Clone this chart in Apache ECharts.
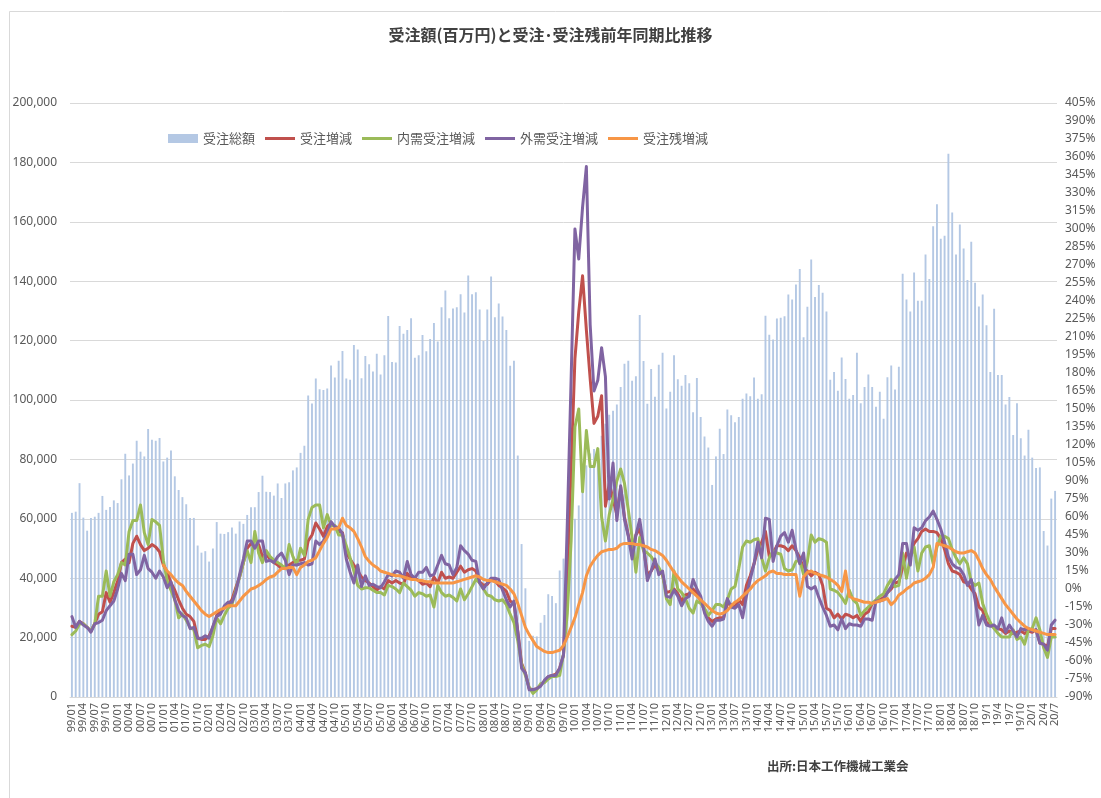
<!DOCTYPE html>
<html>
<head>
<meta charset="utf-8">
<title>受注額と受注・受注残前年同期比推移</title>
<script src="https://cdn.jsdelivr.net/npm/echarts@6/dist/echarts.min.js"></script>
<style>
  html, body { margin: 0; padding: 0; background: #fff; }
  #chart { width: 1101px; height: 798px; }
</style>
</head>
<body>
<div id="chart"></div>
<script>
const TITLE = '受注額(百万円)と受注･受注残前年同期比推移'
const SOURCE = '出所:日本工作機械工業会'

// month labels 99/01 ... 18/12, then 19/1 ... 20/7
const months = []
for (let y = 1999; y <= 2020; y++) {
    for (let m = 1; m <= 12; m++) {
        if (y == 2020 && m > 7) break
        const yy = String(y % 100).padStart(2, '0')
        const mm = y < 2019 ? String(m).padStart(2, '0') : String(m)
        months.push(`${yy}/${mm}`)
    }
}

// 受注総額 (百万円), one row per year
const totalOrders = [
    62000, 62400, 72000, 60400, 56000, 60300, 60700, 62000, 67700, 63000, 64000, 66200,
    65300, 73300, 81900, 74600, 78600, 86300, 82600, 81000, 90200, 86600, 86300, 87200,
    79300, 80600, 83000, 74300, 69700, 67300, 64900, 60300, 60300, 51000, 48600, 49100,
    45600, 50000, 58900, 55000, 54900, 55500, 57100, 55000, 59100, 58300, 61300, 63900,
    63900, 69000, 74500, 69100, 69000, 67800, 71900, 67000, 71900, 72300, 76300, 77300,
    82200, 84600, 101500, 98800, 107200, 103600, 103400, 103900, 111600, 107600, 113200, 116500,
    107200, 106800, 118500, 117000, 107300, 114800, 112000, 109600, 115600, 108600, 115100, 128300,
    112800, 112600, 124900, 122300, 123600, 127500, 114200, 115100, 121900, 116400, 120500, 125900,
    119700, 131200, 136900, 127500, 130800, 131200, 135600, 129500, 141900, 135600, 136300, 130500,
    119900, 130500, 141600, 127900, 132500, 128100, 123600, 111500, 113200, 81300, 51500, 36600,
    18900, 20600, 20400, 25000, 27600, 34600, 34000, 31600, 42600, 46600, 50000, 56000,
    60000, 64500, 75300, 78000, 82000, 83500, 83700, 88000, 92000, 95000, 96400, 98500,
    104400, 112200, 113200, 106500, 108000, 128600, 113100, 98700, 110400, 101100, 111900, 115900,
    97100, 102800, 115100, 107000, 104800, 108400, 105600, 95900, 107400, 94300, 87700, 84000,
    71400, 81000, 90300, 81800, 96800, 94900, 92500, 94300, 100400, 102200, 101300, 107600,
    100400, 101900, 128400, 122000, 120400, 127400, 127700, 128200, 135500, 133800, 138900, 144100,
    121100, 131400, 147300, 134700, 138700, 136100, 129800, 106800, 109400, 103100, 114300, 107100,
    100400, 101700, 115900, 98900, 104400, 108600, 104400, 97700, 102800, 93700, 107700, 111600,
    103500, 111200, 142500, 133800, 129800, 142900, 133400, 133400, 149000, 140700, 158500, 165900,
    154300, 155300, 182900, 163100, 149000, 159100, 151000, 140400, 153300, 139500, 131500, 135500,
    125200, 109400, 130700, 108400, 108400, 98500, 101000, 88200, 98900, 87100, 81300, 90000,
    80600, 77100, 77300, 55900, 51000, 66800, 69400
]

// 受注増減 (%)
const orderChange = [
    -31, -32, -27, -29, -32, -35, -29, -21, -19, -3, -11, -3,
    7, 22, 25, 22, 38, 44, 37, 32, 34, 37, 35, 31,
    20, 14, 5, -1, -9, -16, -21, -23, -27, -41, -42, -42,
    -39, -32, -22, -19, -16, -13, -9, 1, 10, 22, 34, 38,
    35, 37, 27, 29, 25, 22, 20, 17, 17, 20, 22, 24,
    24, 25, 40, 45, 55, 50, 44, 52, 55, 52, 48, 47,
    30, 25, 20, 15, 10, 7, 5, 2, -1, 2, 0, 7,
    5, 7, 5, 4, 13, 9, 9, 7, 4, 5, 2, 10,
    5, 14, 9, 10, 9, 14, 19, 14, 16, 17, 15, 6,
    3, 4, 8, 7, 3, 1, -2, -10, -12, -35, -62, -70,
    -83, -84, -83, -80, -77, -73, -72, -71, -66, -55, 10, 100,
    192, 231, 261, 216, 175, 138, 144, 161, 69, 88, 75, 62,
    85, 60, 45, 30, 45, 50, 35, 12, 15, 20, 15, 12,
    -3, -2, 0, -4, -10, -5, -4, 0, -3, -10, -18, -24,
    -27, -25, -24, -24, -12, -13, -15, -9, -13, 3, 11, 21,
    33, 39, 48, 27, 30, 36, 36, 35, 32, 36, 32, 26,
    17, 15, 11, 14, 12, 3, -16, -18, -24, -21, -25, -21,
    -22, -24, -22, -27, -21, -19, -12, -10, -9, -7, -3, 0,
    5, 6, 18, 30, 27, 38, 42, 48, 50, 48, 48, 47,
    42, 33, 21, 15, 14, 12, 6, 5, 0, -4, -15, -18,
    -28, -30, -32, -33, -34, -37, -35, -37, -36, -35, -37, -35,
    -36, -34, -45, -46, -48, -33, -33
]

// 内需受注増減 (%)
const domesticChange = [
    -38, -35, -29, -29, -32, -35, -29, -6, -6, 15, -6, 6,
    12, 22, 20, 48, 57, 57, 70, 47, 37, 58, 56, 53,
    24, 7, -1, -9, -24, -21, -26, -32, -34, -49, -47, -46,
    -48, -39, -24, -29, -22, -16, -13, -1, 10, 22, 32, 22,
    48, 30, 22, 32, 27, 24, 22, 20, 17, 37, 27, 20,
    34, 28, 58, 68, 70, 70, 51, 62, 53, 53, 45, 45,
    36, 26, 15, 3, 0, 1, 1, -1, -3, -3, -5, 3,
    2, 0, -3, 5, 2, -1, -6, -3, -4, -6, -5, -15,
    3, -3, -6, -5, -7, -10, 0, -9, -4, 2, 8, 5,
    0, -5, -6, -9, -10, -9, -13, -21, -28, -43, -63, -72,
    -82, -87, -84, -79, -78, -75, -73, -73, -72, -54, -20, 40,
    135, 150, 81, 132, 102, 102, 117, 60, 40, 62, 75, 90,
    100, 88, 66, 43, 14, 43, 32, 30, 27, 22, 18, 12,
    -8, -13, 15, 0, -3, -8, -16, -20, -10, -12, -16, -22,
    -18, -13, -13, -15, -9, 0, 2, 17, 35, 40, 39, 41,
    42, 26, 15, 26, 32, 30, 29, 17, 15, 16, 23, 24,
    12, 23, 45, 39, 42, 41, 39, 0, -1, -3, -7, -12,
    -1, -9, -12, -22, -18, -15, -12, -9, -6, -4, 3, 8,
    2, 3, 30, 9, 26, 35, 15, 30, 35, 36, 21, 35,
    44, 44, 42, 33, 26, 21, 26, 21, 6, 3, 5, -12,
    -21, -28, -33, -37, -40, -40, -40, -34, -42, -40, -46, -34,
    -33, -24, -34, -49, -57, -40, -40
]

// 外需受注増減 (%)
const foreignChange = [
    -23, -32, -27, -30, -32, -36, -29, -28, -26, -18, -14, -10,
    0, 13, 7, 29, 29, 12, 16, 28, 17, 14, 9, 15,
    10, 1, 6, -9, -18, -22, -24, -33, -32, -41, -41, -39,
    -41, -31, -23, -21, -14, -11, -11, -3, 12, 25, 40, 40,
    34, 40, 40, 23, 24, 22, 27, 30, 24, 12, 20, 20,
    21, 22, 20, 21, 40, 37, 40, 46, 56, 52, 51, 46,
    25, 14, 5, 20, 2, 11, 3, 4, 2, 1, 6, 12,
    11, 15, 14, 9, 23, 12, 9, 14, 14, 18, 11, 12,
    20, 28, 21, 20, 12, 18, 36, 32, 29, 24, 23, 5,
    0, 5, 9, 9, 8, -1, -9, -15, -10, -36, -66, -70,
    -84, -84, -83, -81, -76, -73, -72, -72, -66, -55, 55, 175,
    300, 275, 318, 352, 220, 165, 174, 201, 177, 75, 105, 57,
    86, 58, 44, 25, 45, 58, 36, 7, 15, 25, 12, 15,
    -6, -7, -1, -6, -14, -8, -6, 8, 0, -6, -20, -27,
    -31, -26, -26, -25, -8, -15, -16, -13, -24, -6, 8, 21,
    39, 26, 59, 58, 23, 36, 44, 47, 39, 49, 33, 21,
    30, 2, 0, 2, -7, -15, -22, -31, -30, -34, -25, -33,
    -29, -30, -30, -31, -25, -25, -26, -10, -10, -9, -3, 2,
    8, 12, 38, 38, 20, 51, 49, 51, 57, 60, 65, 58,
    50, 39, 27, 21, 18, 17, 12, 3, 8, -9, -30, -22,
    -30, -31, -30, -33, -24, -36, -30, -35, -40, -33, -34, -33,
    -35, -34, -45, -46, -51, -30, -26
]

// 受注残増減 (%), no data for 1999-2000
const backlogChange = [
    null, null, null, null, null, null, null, null, null, null, null, null,
    null, null, null, null, null, null, null, null, null, null, null, null,
    20, 15, 12, 8, 5, 3, -2, -6, -10, -14, -18, -21,
    -23, -21, -19, -17, -16, -14, -14, -14, -10, -6, -3, 0,
    1, 3, 5, 8, 10, 11, 14, 17, 17, 18, 18, 12,
    18, 20, 23, 24, 26, 32, 38, 43, 50, 50, 51, 59,
    53, 51, 48, 42, 35, 27, 23, 20, 18, 15, 14, 13,
    12, 11, 11, 10, 9, 8, 8, 7, 7, 6, 6, 5,
    5, 5, 5, 5, 5, 6, 7, 8, 9, 10, 11, 10,
    8, 7, 7, 6, 5, 4, 3, 0, -4, -12, -22, -32,
    -38, -43, -48, -50, -52, -53, -53, -52, -51, -47, -40, -32,
    -24, -13, -3, 11, 19, 24, 28, 31, 32, 33, 33, 34,
    37, 38, 38, 38, 37, 37, 36, 35, 33, 32, 30, 28,
    24, 19, 14, 10, 6, 3, 0, -3, -6, -9, -12, -15,
    -18, -20, -21, -20, -18, -14, -11, -9, -6, -3, 0, 4,
    7, 9, 11, 14, 15, 13, 13, 12, 12, 12, 12, -6,
    10, 14, 15, 13, 12, 11, 10, 8, 6, 3, -2, 15,
    -6, -8, -9, -10, -11, -11, -12, -11, -10, -9, -8, -13,
    -10, -5, -3, 0, 2, 5, 6, 7, 9, 12, 18, 38,
    37, 36, 35, 33, 31, 30, 30, 31, 32, 30, 24, 17,
    12, 8, 2, -3, -8, -13, -17, -21, -25, -28, -31, -33,
    -34, -35, -36, -37, -38, -38, -38
]

const TEXT_COLOR = '#595959'
const GRID_COLOR = '#d9d9d9'
const JP_FONT = '"Noto Sans CJK JP", sans-serif'
const NUM_FONT = '"Noto Sans", "DejaVu Sans", sans-serif'
// plain line for the legend (no marker), like the Excel legend
const LINE_ICON = 'path://M0,0 L30,0 L30,3 L0,3 Z'

function lineSeries(name, data, color) {
    return {
        name: name,
        type: 'line',
        yAxisIndex: 1,
        data: data,
        symbol: 'none',
        connectNulls: false,
        lineStyle: { width: 3, color: color, cap: 'round', join: 'round' },
        itemStyle: { color: color }
    }
}

var dom = document.getElementById('chart')
var myChart = echarts.init(dom, null, { renderer: 'canvas' })

var option = {
    animation: false,
    backgroundColor: '#ffffff',
    title: {
        text: TITLE,
        left: 'center',
        top: 22,
        textStyle: { fontSize: 16, fontWeight: 'bold', color: '#404040', fontFamily: JP_FONT }
    },
    legend: {
        left: 163,
        top: 127,
        itemWidth: 30,
        itemHeight: 9,
        itemGap: 10,
        textStyle: { fontSize: 13, color: TEXT_COLOR, fontFamily: JP_FONT },
        data: [
            { name: '受注総額', icon: 'rect' },
            { name: '受注増減', icon: LINE_ICON },
            { name: '内需受注増減', icon: LINE_ICON },
            { name: '外需受注増減', icon: LINE_ICON },
            { name: '受注残増減', icon: LINE_ICON }
        ]
    },
    grid: { left: 70, right: 44, top: 103, bottom: 101 },
    xAxis: {
        type: 'category',
        data: months,
        axisLine: { lineStyle: { color: GRID_COLOR } },
        axisTick: { show: false },
        axisLabel: {
            interval: 2,
            rotate: 90,
            fontSize: 11,
            color: TEXT_COLOR,
            fontFamily: NUM_FONT,
            margin: 6
        }
    },
    yAxis: [
        {
            type: 'value',
            min: 0,
            max: 200000,
            interval: 20000,
            axisLine: { show: false },
            axisTick: { show: false },
            axisLabel: {
                fontSize: 12,
                color: TEXT_COLOR,
                fontFamily: NUM_FONT,
                margin: 13,
                formatter: v => v.toLocaleString('en-US')
            },
            splitLine: { lineStyle: { color: GRID_COLOR } }
        },
        {
            type: 'value',
            position: 'right',
            min: -90,
            max: 405,
            interval: 15,
            axisLine: { show: false },
            axisTick: { show: false },
            axisLabel: {
                fontSize: 12,
                color: TEXT_COLOR,
                fontFamily: NUM_FONT,
                margin: 8,
                formatter: '{value}%'
            },
            splitLine: { show: false }
        }
    ],
    series: [
        {
            name: '受注総額',
            type: 'bar',
            yAxisIndex: 0,
            data: totalOrders,
            barCategoryGap: '50%',
            itemStyle: { color: '#b4c8e4' }
        },
        lineSeries('受注増減', orderChange, '#c0504d'),
        lineSeries('内需受注増減', domesticChange, '#9bbb59'),
        lineSeries('外需受注増減', foreignChange, '#8064a2'),
        lineSeries('受注残増減', backlogChange, '#f79646')
    ],
    graphic: [
        {
            type: 'rect',
            shape: { x: 9.5, y: 11.5, width: 1100, height: 800 },
            style: { fill: 'none', stroke: GRID_COLOR, lineWidth: 1 },
            silent: true
        },
        {
            type: 'text',
            left: 767,
            top: 760,
            style: { text: SOURCE, fontSize: 12.5, fontWeight: 'bold', fill: '#404040', fontFamily: JP_FONT }
        }
    ]
}

option && myChart.setOption(option)
window.addEventListener('resize', myChart.resize)
</script>
</body>
</html>
